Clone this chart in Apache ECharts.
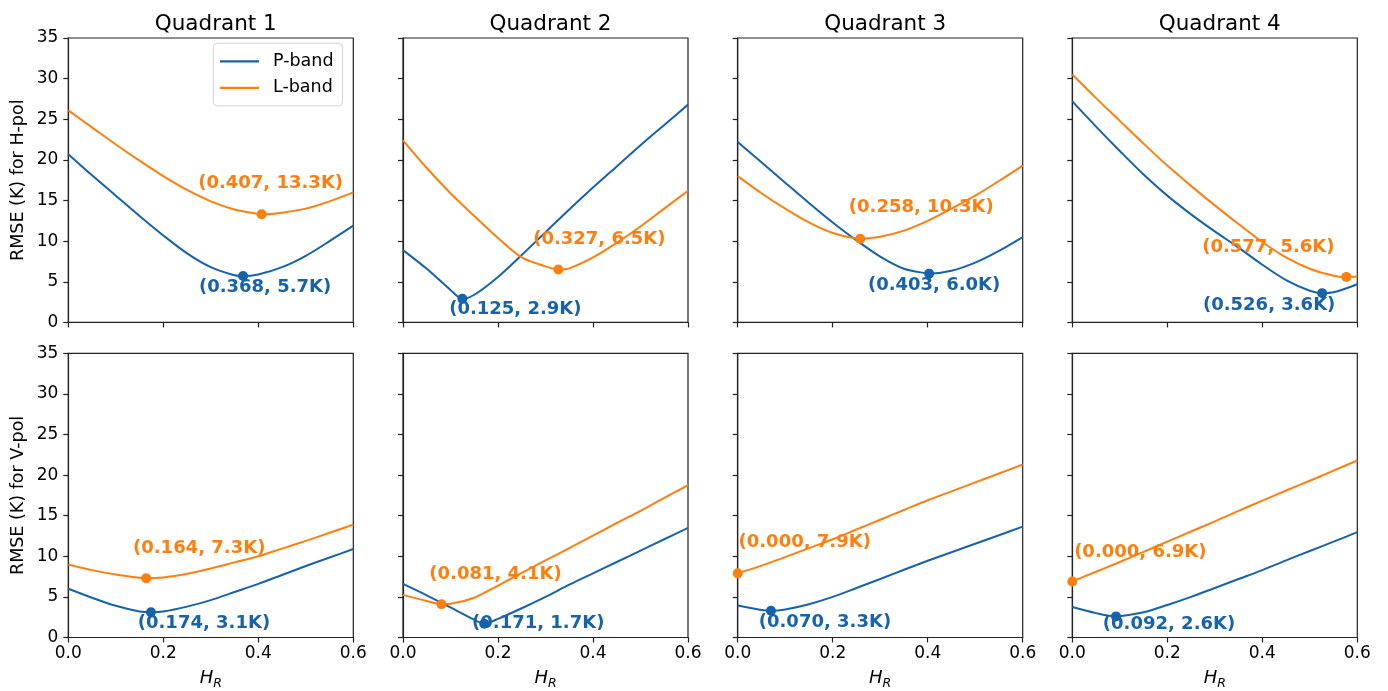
<!DOCTYPE html>
<html>
<head>
<meta charset="utf-8">
<script src="https://cdn.jsdelivr.net/npm/echarts@6/dist/echarts.min.js"></script>
<style>
html,body{margin:0;padding:0;background:#fff;}
#chart{width:1388px;height:691px;}
</style>
</head>
<body>
<div id="chart"></div>
<script>
// ---------- DATA ----------
const hr = [0, 0.05, 0.1, 0.15, 0.2, 0.25, 0.3, 0.35, 0.4, 0.45, 0.5, 0.55, 0.6];
const quadrants = ['Quadrant 1', 'Quadrant 2', 'Quadrant 3', 'Quadrant 4'];
const bands = ['P-band', 'L-band'];
const polNames = ['RMSE (K) for H-pol', 'RMSE (K) for V-pol'];

// H-pol (top row), values at hr
const hP_q1 = [20.7, 18.1, 15.6, 13.1, 10.7, 8.5, 6.8, 5.8, 5.9, 6.8, 8.2, 10.0, 11.9];
const hL_q1 = [26.1, 24.0, 21.9, 19.9, 18.0, 16.3, 14.9, 13.9, 13.35, 13.5, 14.0, 14.9, 16.0];
const hP_q2 = [8.9, 6.6, 4.0, 3.4, 5.6, 8.3, 11.1, 13.9, 16.6, 19.2, 21.8, 24.3, 26.8];
const hL_q2 = [22.4, 19.0, 15.9, 13.1, 10.4, 8.0, 6.9, 6.65, 8.0, 9.8, 11.8, 14.0, 16.2];
const hP_q3 = [22.2, 19.7, 17.2, 14.7, 12.3, 10.1, 8.1, 6.6, 6.01, 6.35, 7.35, 8.8, 10.5];
const hL_q3 = [18.0, 15.9, 14.0, 12.3, 11.0, 10.32, 10.55, 11.3, 12.5, 14.0, 15.6, 17.4, 19.3];
const hP_q4 = [27.2, 24.1, 21.1, 18.2, 15.6, 13.3, 11.2, 9.2, 7.1, 5.2, 3.9, 3.7, 4.7];
const hL_q4 = [30.5, 27.6, 24.8, 22.0, 19.3, 16.8, 14.4, 12.1, 9.9, 8.0, 6.6, 5.75, 5.65];
// V-pol (bottom row)
const vP_q1 = [6.0, 4.9, 3.9, 3.2, 3.2, 3.8, 4.6, 5.6, 6.6, 7.7, 8.8, 9.85, 10.9];
const vL_q1 = [9.0, 8.3, 7.75, 7.35, 7.4, 7.85, 8.5, 9.25, 10.0, 10.95, 11.9, 12.9, 13.9];
const vP_q2 = [6.6, 5.2, 3.7, 2.2, 2.3, 3.6, 5.0, 6.5, 7.9, 9.3, 10.7, 12.1, 13.5];
const vL_q2 = [5.25, 4.5, 4.15, 4.9, 6.4, 7.95, 9.5, 11.0, 12.55, 14.1, 15.6, 17.2, 18.75];
const vP_q3 = [3.95, 3.4, 3.45, 4.1, 5.0, 6.1, 7.2, 8.35, 9.45, 10.5, 11.55, 12.6, 13.66];
const vL_q3 = [7.9, 8.85, 9.9, 11.0, 12.1, 13.3, 14.5, 15.7, 16.9, 18.0, 19.1, 20.2, 21.3];
const vP_q4 = [3.75, 3.0, 2.62, 3.1, 4.0, 5.0, 6.1, 7.2, 8.3, 9.5, 10.65, 11.8, 12.97];
const vL_q4 = [6.9, 8.1, 9.3, 10.55, 11.8, 13.05, 14.3, 15.6, 16.85, 18.1, 19.3, 20.55, 21.8];

// minima [H_R, RMSE]
const minP_H = [[0.368, 5.7], [0.125, 2.9], [0.403, 6.0], [0.526, 3.6]];
const minL_H = [[0.407, 13.3], [0.327, 6.5], [0.258, 10.3], [0.577, 5.6]];
const minP_V = [[0.174, 3.1], [0.171, 1.7], [0.070, 3.3], [0.092, 2.6]];
const minL_V = [[0.164, 7.3], [0.081, 4.1], [0.000, 7.9], [0.000, 6.9]];

// ---------- LAYOUT / STYLE ----------
const FONT = 'DejaVu Sans';
const BLUE = '#1663ab';
const ORANGE = '#ff7f0e';
const gridLeft = [68.3, 403, 737.7, 1072.3];
const gridTop = [38, 353.3];
const gridW = 285, gridH = 284.4;
// label offsets (px) from min point to label centre
const labelOffsets = [
  [{P:[22,11], L:[9,-31]}, {P:[53,10], L:[41,-30]}, {P:[5,12], L:[61,-31]}, {P:[-53,12], L:[-78,-30]}],
  [{P:[53,11], L:[53,-30]}, {P:[54,0], L:[54,-30]}, {P:[54,12], L:[67,-31]}, {P:[53,8], L:[68,-29]}]
];

const rows = [
  {P:[hP_q1,hP_q2,hP_q3,hP_q4], L:[hL_q1,hL_q2,hL_q3,hL_q4], minP:minP_H, minL:minL_H},
  {P:[vP_q1,vP_q2,vP_q3,vP_q4], L:[vL_q1,vL_q2,vL_q3,vL_q4], minP:minP_V, minL:minL_V}
];

function mergeData(ys, mn) {
  const pts = hr.map((x, i) => [x, ys[i]]);
  if (!pts.some(p => Math.abs(p[0] - mn[0]) < 1e-9)) pts.push([mn[0], mn[1]]);
  pts.sort((a, b) => a[0] - b[0]);
  return pts;
}

const grids = [], xAxes = [], yAxes = [], series = [], titles = [];
for (let r = 0; r < 2; r++) {
  for (let c = 0; c < 4; c++) {
    const gi = r * 4 + c;
    grids.push({left: gridLeft[c], top: gridTop[r], width: gridW, height: gridH,
      show: true, borderColor: '#222', borderWidth: 1.2, backgroundColor: 'transparent', containLabel: false});
    xAxes.push({
      type: 'value', gridIndex: gi, min: 0, max: 0.6, interval: 0.2,
      axisLine: {show: true, onZero: false, lineStyle: {color: '#222', width: 1.2}},
      axisTick: {show: true, length: 5, lineStyle: {color: '#222', width: 1.2}},
      splitLine: {show: false},
      axisLabel: {show: r === 1, margin: 8, color: '#000', fontFamily: FONT, fontSize: 17,
        formatter: v => v.toFixed(1)},
      name: r === 1 ? '{i|H}{s|R}' : '', nameLocation: 'middle', nameGap: 30,
      nameTextStyle: {rich: {
        i: {fontFamily: FONT, fontStyle: 'italic', fontSize: 18, color: '#000', lineHeight: 22},
        s: {fontFamily: FONT, fontStyle: 'italic', fontSize: 12.5, color: '#000', lineHeight: 22, padding: [10, 0, 0, 0]}
      }}
    });
    yAxes.push({
      type: 'value', gridIndex: gi, min: 0, max: 35, interval: 5,
      axisLine: {show: true, onZero: false, lineStyle: {color: '#222', width: 1.2}},
      axisTick: {show: true, length: 5, lineStyle: {color: '#222', width: 1.2}},
      splitLine: {show: false},
      axisLabel: {show: c === 0, margin: 10, color: '#000', fontFamily: FONT, fontSize: 17},
      name: c === 0 ? polNames[r] : '', nameLocation: 'middle', nameGap: 41, nameRotate: 90,
      nameTextStyle: {fontFamily: FONT, fontSize: 17.5, color: '#000'}
    });
    const row = rows[r];
    const off = labelOffsets[r][c];
    [['P', BLUE, row.P[c], row.minP[c]], ['L', ORANGE, row.L[c], row.minL[c]]].forEach(([k, col, ys, mn]) => {
      const name = k === 'P' ? bands[0] : bands[1];
      series.push({
        type: 'line', name, xAxisIndex: gi, yAxisIndex: gi,
        data: mergeData(ys, mn), showSymbol: false, smooth: 0.3,
        lineStyle: {color: col, width: 2}, itemStyle: {color: col}, z: 2, animation: false
      });
      series.push({
        type: 'scatter', name, xAxisIndex: gi, yAxisIndex: gi, clip: false,
        data: [[mn[0], mn[1]]], symbolSize: 10, itemStyle: {color: col, opacity: 1}, z: 3, animation: false,
        label: {show: true, position: 'inside', offset: off[k], color: col, opacity: 1, fontFamily: FONT,
          fontWeight: 'bold', fontSize: 18,
          formatter: p => '(' + p.value[0].toFixed(3) + ', ' + p.value[1].toFixed(1) + 'K)'}
      });
    });
  }
}
for (let c = 0; c < 4; c++) {
  titles.push({text: quadrants[c], left: gridLeft[c] + gridW / 2, top: 8, textAlign: 'center',
    textStyle: {fontFamily: FONT, fontSize: 21.5, fontWeight: 'normal', color: '#000'}});
}

const chart = echarts.init(document.getElementById('chart'), null, {renderer: 'canvas'});
chart.setOption({
  animation: false,
  backgroundColor: '#fff',
  title: titles,
  legend: {
    data: [{name: bands[0], icon: 'rect'}, {name: bands[1], icon: 'rect'}],
    orient: 'vertical', left: 213.3, top: 43.3,
    itemWidth: 39, itemHeight: 2.2, itemGap: 6.6,
    padding: [8, 9, 8, 6.7],
    backgroundColor: 'rgba(255,255,255,0.85)', borderColor: '#d3d3d3', borderWidth: 1, borderRadius: 4,
    textStyle: {fontFamily: FONT, fontSize: 17.5, color: '#000', lineHeight: 20, padding: [0, 0, 0, 9]},
    selectedMode: false
  },
  grid: grids, xAxis: xAxes, yAxis: yAxes, series
});
</script>
</body>
</html>
